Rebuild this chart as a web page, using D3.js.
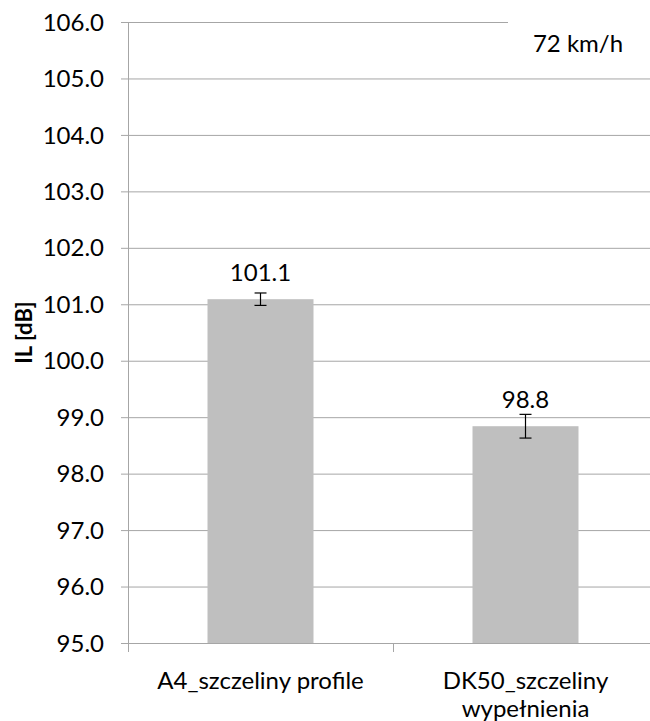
<!DOCTYPE html>
<html>
<head>
<meta charset="utf-8">
<script src="https://cdn.jsdelivr.net/npm/d3@7"></script>
<style>
  html, body { margin: 0; padding: 0; background: #fff; }
  svg { display: block; font-family: Lato, "Open Sans", sans-serif; }
</style>
</head>
<body>
<svg id="chart" width="650" height="721"></svg>
<script>
// Insertion loss per road surface at 72 km/h
const categories = ["A4_szczeliny profile", "DK50_szczeliny wypełnienia"];
const categoryLines = [["A4_szczeliny profile"], ["DK50_szczeliny", "wypełnienia"]];
const values = [101.09, 98.84];
const errors = [0.11, 0.21];
const yTicks = [95, 96, 97, 98, 99, 100, 101, 102, 103, 104, 105, 106];
const yTitle = "IL [dB]";
const speedNote = "72 km/h";

const svg = d3.select("#chart");
const gridColor = "#a6a6a6";
const fontSize = 24;

const x = d3.scaleBand().domain(categories).range([128, 658]).padding(0);
const y = d3.scaleLinear().domain([95, 106]).range([643, 22]);
const barWidth = x.bandwidth() * 0.4;

// horizontal gridlines with left-side tick stubs
svg.append("g")
  .attr("transform", "translate(128,0)")
  .call(d3.axisLeft(y).tickValues(yTicks).tickSize(-700).tickSizeOuter(0).tickFormat(""))
  .call(g => g.select(".domain").remove())
  .call(g => g.selectAll(".tick line")
      .attr("x1", -7)
      .attr("stroke", gridColor)
      .attr("stroke-width", 1));

// y tick labels
svg.append("g").selectAll("text")
  .data(yTicks)
  .join("text")
  .attr("x", 104)
  .attr("y", d => y(d))
  .attr("dy", "0.36em")
  .attr("text-anchor", "end")
  .attr("font-size", fontSize)
  .attr("fill", "#000")
  .text(d => d3.format(".1f")(d));

// bars
svg.append("g").selectAll("rect")
  .data(categories)
  .join("rect")
  .attr("x", (d) => x(d) + (x.bandwidth() - barWidth) / 2)
  .attr("width", barWidth)
  .attr("y", (d, i) => y(values[i]))
  .attr("height", (d, i) => y(95) - y(values[i]))
  .attr("fill", "#bfbfbf");

// error bars
const eg = svg.append("g").attr("stroke", "#000").attr("stroke-width", 1.2);
categories.forEach((c, i) => {
  const cx = x(c) + x.bandwidth() / 2;
  const top = y(values[i] + errors[i]);
  const bot = y(values[i] - errors[i]);
  eg.append("line").attr("x1", cx).attr("x2", cx).attr("y1", top).attr("y2", bot);
  eg.append("line").attr("x1", cx - 6).attr("x2", cx + 6).attr("y1", top).attr("y2", top);
  eg.append("line").attr("x1", cx - 6).attr("x2", cx + 6).attr("y1", bot).attr("y2", bot);
});

// value labels
svg.append("g").selectAll("text")
  .data(categories)
  .join("text")
  .attr("x", d => x(d) + x.bandwidth() / 2)
  .attr("y", (d, i) => y(values[i]) - 18.5)
  .attr("text-anchor", "middle")
  .attr("font-size", fontSize)
  .attr("fill", "#000")
  .text((d, i) => d3.format(".1f")(values[i]));

// y axis line
svg.append("line")
  .attr("x1", 128.5).attr("x2", 128.5)
  .attr("y1", y(106)).attr("y2", 652)
  .attr("stroke", gridColor).attr("stroke-width", 1);

// x axis with category boundary ticks
const bounds = [128, ...categories.map(c => x(c) + x.bandwidth())];
svg.append("g").selectAll("line")
  .data(bounds)
  .join("line")
  .attr("x1", d => d + 0.5).attr("x2", d => d + 0.5)
  .attr("y1", y(95)).attr("y2", 652)
  .attr("stroke", gridColor).attr("stroke-width", 1);

// category labels
const cl = svg.append("g");
categories.forEach((c, i) => {
  const t = cl.append("text")
    .attr("x", x(c) + x.bandwidth() / 2)
    .attr("y", 689)
    .attr("text-anchor", "middle")
    .attr("font-size", fontSize)
    .attr("fill", "#000");
  categoryLines[i].forEach((line, j) => {
    t.append("tspan")
      .attr("x", x(c) + x.bandwidth() / 2)
      .attr("dy", j === 0 ? 0 : 28)
      .text(line);
  });
});

// y axis title
svg.append("text")
  .attr("transform", `translate(32,${(y(95) + y(106)) / 2}) rotate(-90)`)
  .attr("text-anchor", "middle")
  .attr("font-size", 22)
  .attr("font-weight", "bold")
  .attr("fill", "#000")
  .text(yTitle);

// speed note in a white box over the top gridline
svg.append("rect")
  .attr("x", 508).attr("y", 10)
  .attr("width", 142).attr("height", 60)
  .attr("fill", "#fff");
svg.append("text")
  .attr("x", 578)
  .attr("y", 52)
  .attr("text-anchor", "middle")
  .attr("font-size", fontSize)
  .attr("fill", "#000")
  .text(speedNote);
</script>
</body>
</html>
